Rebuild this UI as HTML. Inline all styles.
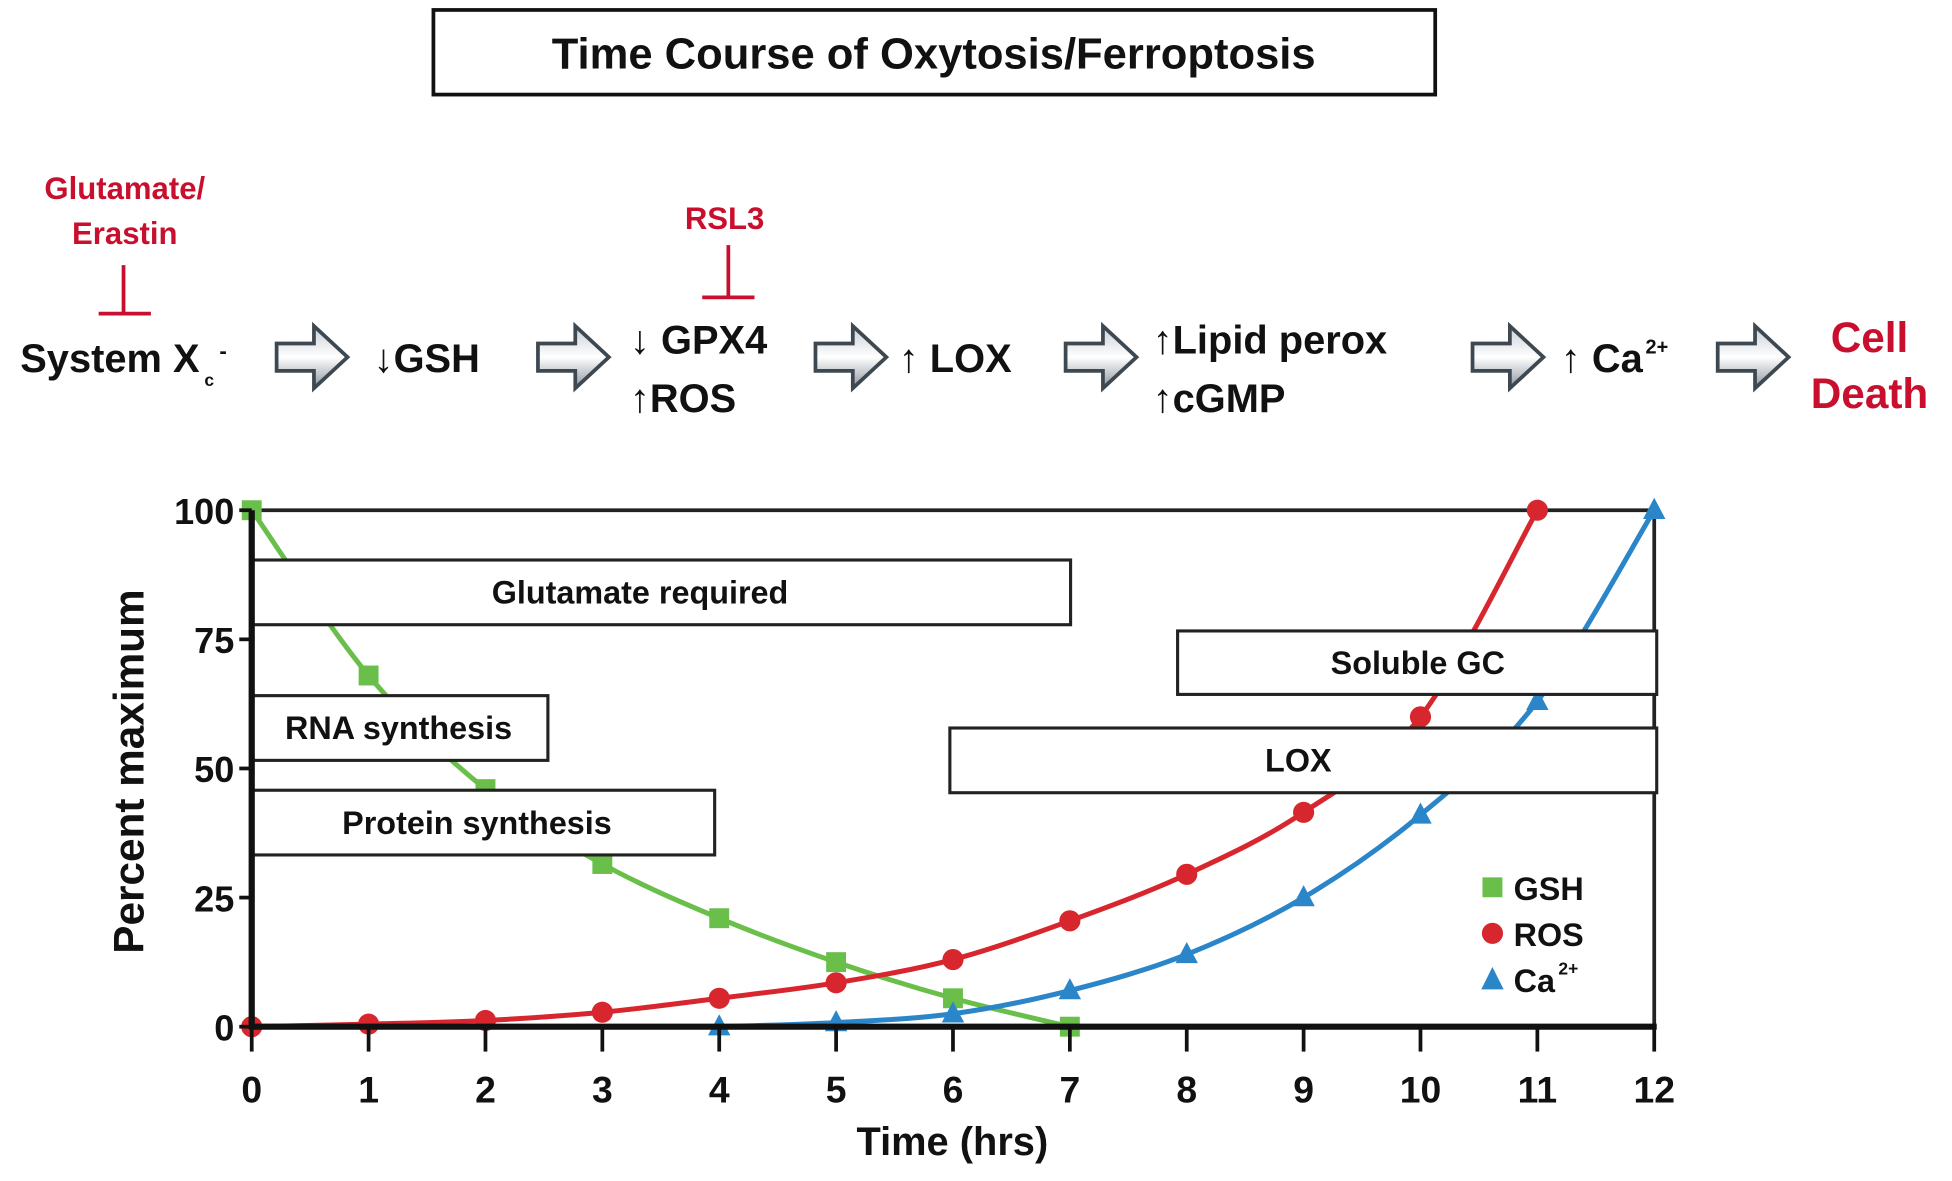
<!DOCTYPE html>
<html><head><meta charset="utf-8"><style>
html,body{margin:0;padding:0;background:#fff;}
svg{display:block;font-family:"Liberation Sans",Arial,sans-serif;font-weight:bold;}
</style></head><body>
<svg id="fig" width="1952" height="1181" viewBox="0 0 1568 949" xmlns="http://www.w3.org/2000/svg">
<defs>
<linearGradient id="ag" x1="0" y1="0" x2="0" y2="1">
<stop offset="0" stop-color="#c8cfd6"/><stop offset="0.5" stop-color="#ffffff"/><stop offset="1" stop-color="#8a949c"/>
</linearGradient>
</defs>
<rect x="0" y="0" width="1568" height="949" fill="#fff"/>
<g>
<rect x="348" y="8" width="805" height="68" fill="#fff" stroke="#111" stroke-width="3"/>
<text x="750" y="55" text-anchor="middle" font-size="35" fill="#111">Time Course of Oxytosis/Ferroptosis</text>
</g>
<g fill="#111">
<text x="100" y="160" text-anchor="middle" font-size="25" fill="#c8102e">Glutamate/</text>
<text x="100" y="196" text-anchor="middle" font-size="25" fill="#c8102e">Erastin</text>
<path d="M99 213V251M79 252H121" stroke="#c8102e" stroke-width="3" fill="none"/>
<text x="582" y="184" text-anchor="middle" font-size="25" fill="#c8102e">RSL3</text>
<path d="M585 197V238M564 239H606" stroke="#c8102e" stroke-width="3" fill="none"/>
<text x="16" y="299" font-size="32">System X</text>
<text x="164" y="310" font-size="14">c</text>
<text x="176" y="288" font-size="18">-</text>
<text x="300" y="299" font-size="32">↓GSH</text>
<text x="506" y="284" font-size="32">↓ GPX4</text>
<text x="506" y="331" font-size="32">↑ROS</text>
<text x="722" y="299" font-size="32">↑ LOX</text>
<text x="926" y="284" font-size="32">↑Lipid perox</text>
<text x="926" y="331" font-size="32">↑cGMP</text>
<text x="1254" y="299" font-size="32">↑ Ca</text>
<text x="1322" y="284" font-size="16">2+</text>
<text x="1502" y="283" text-anchor="middle" font-size="34" fill="#c8102e">Cell</text>
<text x="1502" y="328" text-anchor="middle" font-size="34" fill="#c8102e">Death</text>
</g>
<g id="arrows"></g>
<g id="plot"></g>
</svg>
<script>
const hours=[0,1,2,3,4,5,6,7,8,9,10,11,12];
const gshT=[0,1,2,3,4,5,6,7];
const gshV=[100,68,46,31.5,21,12.5,5.5,0];
const rosT=[0,1,2,3,4,5,6,7,8,9,10,11];
const rosV=[0,0.5,1.2,2.8,5.5,8.5,13,20.5,29.5,41.5,60,100];
const caT=[4,5,6,7,8,9,10,11,12];
const caV=[0,0.8,2.5,7,14,25,41,63,100];
const yTicks=[0,25,50,75,100];
const NS="http://www.w3.org/2000/svg";
const X=t=>202+t*(1329-202)/12;
const Y=v=>825-v*(825-410)/100;
function el(tag,attrs,parent,txt){const e=document.createElementNS(NS,tag);for(const k in attrs)e.setAttribute(k,attrs[k]);if(txt!==undefined)e.textContent=txt;parent.appendChild(e);return e;}
const arrowsG=document.getElementById('arrows');
[222,432,655,856,1183,1380].forEach((ax,i)=>{
 const p=el('path',{d:`M${ax} 276H${ax+30}V262L${ax+57} 287L${ax+30} 312V298H${ax}Z`,fill:'url(#ag)',stroke:'#3e4850','stroke-width':3},arrowsG);
 
 
});
const g=document.getElementById('plot');
el('path',{d:'M202 410H1329V825',fill:'none',stroke:'#222','stroke-width':3},g);
function spline(ts,vs){
 const P=ts.map((t,i)=>[X(t),Y(vs[i])]);
 let d=`M${P[0][0]} ${P[0][1]}`;
 for(let i=0;i<P.length-1;i++){
  const p0=P[Math.max(0,i-1)],p1=P[i],p2=P[i+1],p3=P[Math.min(P.length-1,i+2)];
  const k=1/6;
  d+=` C${p1[0]+(p2[0]-p0[0])*k} ${p1[1]+(p2[1]-p0[1])*k} ${p2[0]-(p3[0]-p1[0])*k} ${p2[1]-(p3[1]-p1[1])*k} ${p2[0]} ${p2[1]}`;
 }
 return d;
}
const series=[
 {t:gshT,v:gshV,c:'#6abf4b',n:'gsh',m:'sq'},
 {t:rosT,v:rosV,c:'#d7262e',n:'ros',m:'ci'},
 {t:caT,v:caV,c:'#2a86c8',n:'calcium',m:'tr'}];
series.forEach(s=>{
 const line=el('path',{d:spline(s.t,s.v),fill:'none',stroke:s.c,'stroke-width':4},g);
 
 
 s.t.forEach((t,i)=>{
  const x=X(t),y=Y(s.v[i]);let m;
  if(s.m==='sq')m=el('rect',{x:x-8,y:y-8,width:16,height:16,fill:s.c},g);
  else if(s.m==='ci')m=el('circle',{cx:x,cy:y,r:8.5,fill:s.c},g);
  else m=el('path',{d:`M${x} ${y-10}L${x+9} ${y+7}L${x-9} ${y+7}Z`,fill:s.c},g);
  
  
 });
});
const boxes=[[202,450,860,502,'Glutamate required',514,'glutamate-required-box'],[202,559,440,611,'RNA synthesis',320,'rna-synthesis-box'],[202,635,574,687,'Protein synthesis',383,'protein-synthesis-box'],[946,507,1331,558,'Soluble GC',1139,'soluble-gc-box'],[763,585,1331,637,'LOX',1043,'lox-box']];
boxes.forEach(b=>{
 const bg=el('g',{},g);
 
 
 el('rect',{x:b[0],y:b[1],width:b[2]-b[0],height:b[3]-b[1],fill:'#fff',stroke:'#222','stroke-width':2.5},bg);
 el('text',{x:b[5],y:(b[1]+b[3])/2+9,'text-anchor':'middle','font-size':26,fill:'#111'},bg,b[4]);
});
el('path',{d:'M202 410V827M200 825H1331',fill:'none',stroke:'#111','stroke-width':5},g);
yTicks.forEach(v=>{
 el('line',{x1:192,x2:202,y1:Y(v),y2:Y(v),stroke:'#111','stroke-width':3},g);
 const t=el('text',{x:188,y:Y(v)+11,'text-anchor':'end','font-size':29,fill:'#111'},g,String(v));
 
 
});
hours.forEach(h=>{
 el('line',{x1:X(h),x2:X(h),y1:825,y2:845,stroke:'#111','stroke-width':3},g);
 const t=el('text',{x:X(h),y:886,'text-anchor':'middle','font-size':30,fill:'#111'},g,String(h));
 
 
});
const xt=el('text',{x:765,y:928,'text-anchor':'middle','font-size':32,fill:'#111'},g,'Time (hrs)');


const yt=el('text',{x:0,y:0,'text-anchor':'middle','font-size':34,fill:'#111',transform:'translate(115,620) rotate(-90)'},g,'Percent maximum');


const lg=el('g',{},g);


el('rect',{x:1191,y:705,width:16,height:16,fill:'#6abf4b'},lg);
el('text',{x:1216,y:723,'font-size':26,fill:'#111'},lg,'GSH');
el('circle',{cx:1199,cy:750,r:8.5,fill:'#d7262e'},lg);
el('text',{x:1216,y:760,'font-size':26,fill:'#111'},lg,'ROS');
el('path',{d:'M1199 777L1208 795L1190 795Z',fill:'#2a86c8'},lg);
el('text',{x:1216,y:797,'font-size':26,fill:'#111'},lg,'Ca');
el('text',{x:1252,y:783,'font-size':14,fill:'#111'},lg,'2+');
</script>
</body></html>
